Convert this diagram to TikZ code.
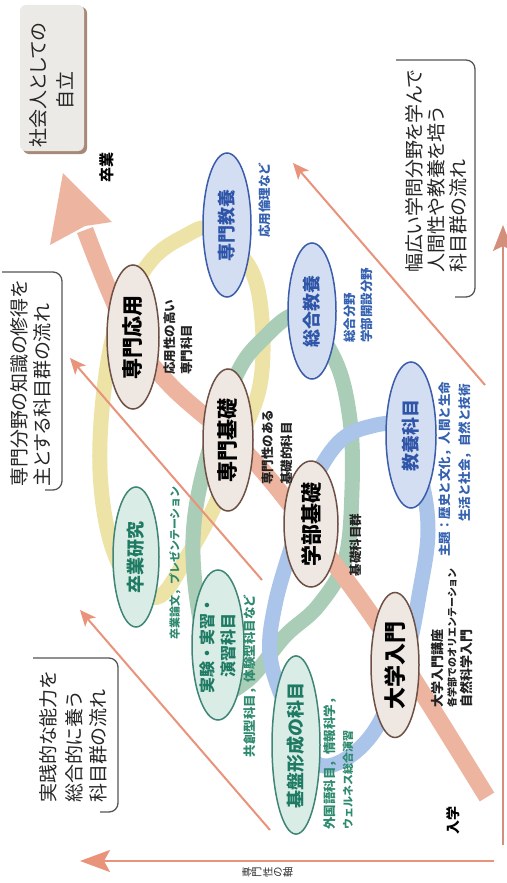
\documentclass[tikz,border=0pt]{standalone}
\usepackage{fontspec}
\setmainfont{Noto Sans CJK JP}
\newfontfamily\jpp[RawFeature=+palt]{Noto Sans CJK JP}
\usetikzlibrary{shapes.geometric,arrows.meta}
\definecolor{bF}{HTML}{D3DEF3}
\definecolor{bB}{HTML}{3B5CA8}
\definecolor{bT}{HTML}{2F55A8}
\definecolor{beF}{HTML}{EEE7E2}
\definecolor{beB}{HTML}{6E5045}
\definecolor{tF}{HTML}{D9ECE6}
\definecolor{tB}{HTML}{3F8575}
\definecolor{tT}{HTML}{1E7A62}
\definecolor{salmonC}{HTML}{EDB5A0}
\definecolor{thinC}{HTML}{E8937A}
\definecolor{yelC}{HTML}{EDE3A6}
\definecolor{greC}{HTML}{A9CDB6}
\definecolor{bluC}{HTML}{AAC5E9}
\definecolor{boxG}{HTML}{ECEAE7}
\definecolor{boxS}{HTML}{A88878}
\definecolor{brk}{HTML}{555555}
\definecolor{labB}{HTML}{3461B0}
\definecolor{labG}{HTML}{2E8A6E}
\definecolor{labK}{HTML}{222222}
\tikzset{
  ellbase/.style={ellipse, rotate=90, inner sep=0pt, line width=1.5pt, font=\bfseries\fontsize{18}{21}\selectfont},
  blueell/.style={ellbase, draw=bB, fill=bF, text=bT},
  beigeell/.style={ellbase, draw=beB, fill=beF, text=black, font=\bfseries\fontsize{21}{23}\selectfont},
  tealell/.style={ellbase, draw=tB, fill=tF, text=tT},
  lab/.style={rotate=90, inner sep=0pt, anchor=west, font=\bfseries\fontsize{12.5}{14}\selectfont},
  labc/.style={rotate=90, inner sep=0pt, anchor=center, font=\bfseries\fontsize{12.5}{14}\selectfont},
  boxtxt/.style={rotate=90, inner sep=0pt, anchor=west, font=\jpp\fontsize{19}{22}\selectfont, text=black!85},
  band/.style={line width=15pt, line cap=round},
  thinar/.style={draw=thinC, line width=2pt, -{Stealth[length=16pt,width=14pt,inset=4pt]}},
  bracket/.style={draw=brk, line width=1.3pt, rounded corners=9pt},
}
\begin{document}
\begin{tikzpicture}[x=1pt,y=-1pt]
\useasboundingbox (0,0) rectangle (506,883);
\fill[white] (0,0) rectangle (506,883);

% colored loops
\draw[band, yelC] plot[smooth cycle, tension=0.6] coordinates {(212,230) (250,268) (262,320) (260,385) (240,440) (215,505) (188,555) (160,596) (132,585) (110,540) (100,470) (104,390) (118,320) (150,262) (185,236)};
\draw[band, greC] plot[smooth cycle, tension=0.6] coordinates {(300,315) (335,360) (350,420) (352,490) (345,560) (318,606) (285,636) (248,680) (218,688) (200,620) (193,540) (205,465) (235,378) (262,340)};
\draw[band, bluC] plot[smooth cycle, tension=0.6] coordinates {(400,428) (368,427) (338,443) (312,485) (292,545) (275,605) (270,655) (285,705) (310,758) (338,763) (375,730) (405,660) (420,590) (428,530) (420,475)};

% big arrow
\draw[salmonC, line width=17pt] plot[smooth, tension=0.6] coordinates {(487,797) (395,650) (333,562) (253,460) (170,385) (125,325) (85,230)};
\fill[salmonC] (63,173) -- (112,222) -- (85,226) -- (50,245) -- cycle;

% thin arrows
\coordinate (a0) at (485,385); \coordinate (a1) at (293,163);
\coordinate (b0) at (262,580); \coordinate (b1) at (70,358);
\coordinate (c0) at (270,830); \coordinate (c1) at (80,610);
\draw[thinar] (a0) -- (a1);
\draw[thinar] (b0) -- (b1);
\draw[thinar] (c0) -- (c1);

% axes
\coordinate (x0) at (494,861); \coordinate (x1) at (80,861);
\draw[draw=thinC, line width=2.5pt, -{Stealth[length=30pt,width=22pt,inset=6pt]}] (x0) -- (x1);
\coordinate (y0) at (503,845); \coordinate (y1) at (503,225);
\draw[draw=thinC!80!gray, line width=1.5pt, -{Stealth[length=26pt,width=20pt,inset=5pt]}] (y0) -- (y1);

% boxes
\fill[boxS, rounded corners=6pt] (23,7) rectangle (87,154);
\fill[boxG, rounded corners=6pt] (20,5) rectangle (84,151);
\node[rotate=90, inner sep=0pt, font=\jpp\fontsize{19}{22}\selectfont, text=black!85] (jiritsu1) at (38,85) {社会人としての};
\node[rotate=90, inner sep=0pt, font=\jpp\fontsize{19}{22}\selectfont, text=black!85] (jiritsu2) at (65,90) {自立};

\draw[bracket] (396,60) -- (475,60) -- (475,297) -- (455,297);
\node[boxtxt] (b2l1) at (414,273) {幅広い学問分野を学んで};
\node[boxtxt] (b2l2) at (436,273) {人間性や教養を培う};
\node[boxtxt] (b2l3) at (458,273) {科目群の流れ};

\draw[bracket] (2,272) -- (62,272) -- (62,490) -- (45,490);
\node[boxtxt] (b3l1) at (19,487) {専門分野の知識の修得を};
\node[boxtxt] (b3l2) at (42,487) {主とする科目群の流れ};

\draw[bracket] (33,658) -- (118,658) -- (118,812) -- (100,812);
\node[boxtxt] (b4l1) at (48,803) {実践的な能力を};
\node[boxtxt] (b4l2) at (74,803) {総合的に養う};
\node[boxtxt] (b4l3) at (98,803) {科目群の流れ};

% ellipses
\node[blueell, minimum width=144pt, minimum height=48pt] (senkyo) at (227,225) {専門教養};
\node[blueell, minimum width=136pt, minimum height=48pt] (sogo) at (312,311) {総合教養};
\node[blueell, minimum width=146pt, minimum height=50pt] (kyoyo) at (411,435) {教養科目};
\node[beigeell, minimum width=126pt, minimum height=54pt] (gakubu) at (311,524) {学部基礎};
\node[beigeell, minimum width=142pt, minimum height=50pt] (senki) at (228,440) {専門基礎};
\node[beigeell, minimum width=144pt, minimum height=52pt] (senou) at (133,337) {専門応用};
\node[tealell, minimum width=140pt, minimum height=46pt] (sotsuken) at (136,557) {卒業研究};
\node[tealell, minimum width=150pt, minimum height=52pt, align=center, font=\bfseries\fontsize{16}{21}\selectfont] (jikken) at (218,645) {実験・実習・\\演習科目};
\node[tealell, minimum width=150pt, minimum height=48pt] (kiban) at (296,745) {基盤形成の科目};
\node[beigeell, minimum width=145pt, minimum height=48pt, font=\bfseries\fontsize{22}{24}\selectfont] (daigaku) at (395,665) {大学入門};

% labels
\node[labc, text=labB] (l1) at (265,200) {応用倫理など};
\node[lab, text=labB] (l2a) at (350,343) {総合分野};
\node[lab, text=labB] (l2b) at (367,343) {学部開設分野};
\node[lab, text=labB] (l3a) at (445,557) {主題：歴史と文化，人間と生命};
\node[lab, text=labB] (l3b) at (465,522) {生活と社会，自然と技術};
\node[labc, text=labK] (l4) at (356,545) {基礎科目群};
\node[lab, text=labK] (l5a) at (268,485) {専門性のある};
\node[lab, text=labK] (l5b) at (287,485) {基礎的科目};
\node[lab, text=labK] (l6a) at (170,375) {応用性の高い};
\node[lab, text=labK] (l6b) at (187,375) {専門科目};
\node[labc, text=labG, font=\bfseries\fontsize{11}{13}\selectfont] (l7) at (175,563) {卒業論文，プレゼンテーション};
\node[labc, text=labG] (l8) at (250,676) {共創型科目，体験型科目など};
\node[lab, text=labG] (l9a) at (330,830) {外国語科目，情報科学，};
\node[lab, text=labG, font=\bfseries\fontsize{11}{13}\selectfont] (l9b) at (348,830) {ウェルネス総合演習};
\node[lab, text=labK, font=\bfseries\fontsize{13}{14}\selectfont] (l10a) at (438,708) {大学入門講座};
\node[lab, text=labK, font=\bfseries\fontsize{10}{12}\selectfont] (l10b) at (452,708) {各学部でのオリエンテーション};
\node[lab, text=labK, font=\bfseries\fontsize{13}{14}\selectfont] (l10c) at (466,708) {自然科学入門};

\node[labc, text=black, font=\bfseries\fontsize{14}{16}\selectfont] (nyugaku) at (453,820) {入学};
\node[labc, text=black, font=\bfseries\fontsize{15}{16}\selectfont] (sotsugyo) at (107,167) {卒業};

\foreach \ch/\xx [count=\i] in {専/247,門/257,性/268,の/278,軸/288}
  \node[rotate=90, inner sep=0pt, font=\fontsize{10.5}{11}\selectfont, text=black!80] (ax\i) at (\xx,872) {\ch};
\end{tikzpicture}
\end{document}
